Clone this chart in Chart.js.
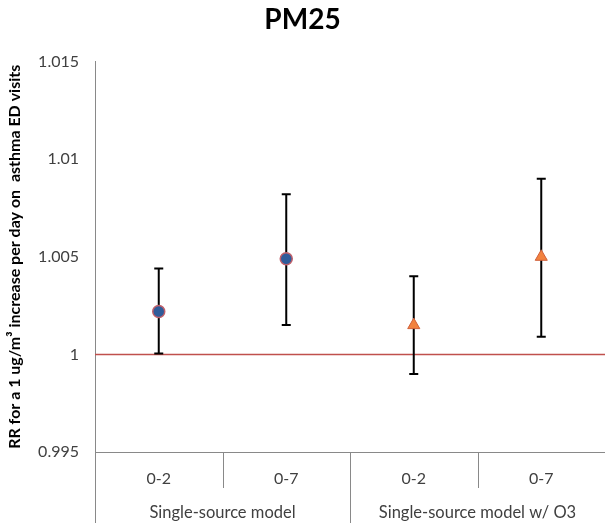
<!DOCTYPE html>
<html>
<head>
<meta charset="utf-8">
<script src="https://cdn.jsdelivr.net/npm/chart.js@4"></script>
<style>
  html, body { margin: 0; padding: 0; background: #fff; }
  #wrap { width: 605px; height: 531px; }
</style>
</head>
<body>
<div id="wrap"><canvas id="pmChart"></canvas></div>
<script>
// chart values
const lagLabels = ['0-2', '0-7', '0-2', '0-7'];
const groupLabels = ['Single-source model', 'Single-source model w/ O3'];
const groupSpans = [2, 2];

const singleRR = [1.0022, 1.0049, null, null];
const singleLow = [1.00005, 1.0015, null, null];
const singleHigh = [1.0044, 1.0082, null, null];

const o3RR = [null, null, 1.0015, 1.0050];
const o3Low = [null, null, 0.9990, 1.0009];
const o3High = [null, null, 1.0040, 1.0090];

const refValue = 1;
const yTicks = [0.995, 1, 1.005, 1.01, 1.015];

const axisGray = '#898989';
const textGray = '#404040';

// error bars + reference line, drawn under the markers
const errorBars = {
  id: 'errorBars',
  beforeDatasetsDraw(chart) {
    const { ctx, chartArea, scales: { x, y } } = chart;
    ctx.save();
    // reference line at RR = 1
    const yr = y.getPixelForValue(refValue);
    ctx.strokeStyle = '#C0504D';
    ctx.lineWidth = 1.5;
    ctx.beginPath();
    ctx.moveTo(chartArea.left, yr);
    ctx.lineTo(chartArea.right, yr);
    ctx.stroke();

    ctx.strokeStyle = '#000';
    ctx.lineWidth = 2;
    chart.data.datasets.forEach(ds => {
      ds.data.forEach((v, i) => {
        if (v == null) return;
        const px = x.getPixelForValue(i);
        const top = y.getPixelForValue(ds.high[i]);
        const bot = y.getPixelForValue(ds.low[i]);
        ctx.beginPath();
        ctx.moveTo(px, top); ctx.lineTo(px, bot);
        ctx.moveTo(px - 4.5, top); ctx.lineTo(px + 4.5, top);
        ctx.moveTo(px - 4.5, bot); ctx.lineTo(px + 4.5, bot);
        ctx.stroke();
      });
    });
    ctx.restore();
  }
};

// grouped category axis (dividers and group names)
const groupAxis = {
  id: 'groupAxis',
  afterDraw(chart) {
    const { ctx, chartArea, scales: { x } } = chart;
    const n = lagLabels.length;
    const edge = i => {
      if (i === 0) return chartArea.left;
      if (i === n) return chartArea.right;
      return (x.getPixelForValue(i - 1) + x.getPixelForValue(i)) / 2;
    };
    const groupEdges = [0];
    groupSpans.forEach(s => groupEdges.push(groupEdges[groupEdges.length - 1] + s));

    ctx.save();
    ctx.strokeStyle = axisGray;
    ctx.lineWidth = 1;
    for (let i = 0; i < n; i++) {
      const px = Math.round(edge(i)) + 0.5;
      const len = groupEdges.includes(i) ? 71 : 36;
      ctx.beginPath();
      ctx.moveTo(px, x.top);
      ctx.lineTo(px, x.top + len);
      ctx.stroke();
    }
    ctx.fillStyle = textGray;
    ctx.font = '16.5px Lato';
    ctx.textAlign = 'center';
    ctx.textBaseline = 'middle';
    groupLabels.forEach((g, k) => {
      const cx = (edge(groupEdges[k]) + edge(groupEdges[k + 1])) / 2;
      ctx.fillText(g, cx, x.top + 61);
    });
    ctx.restore();
  }
};

new Chart(document.getElementById('pmChart'), {
  type: 'line',
  data: {
    labels: lagLabels,
    datasets: [
      {
        label: 'Single-source model',
        data: singleRR,
        low: singleLow,
        high: singleHigh,
        showLine: false,
        pointStyle: 'circle',
        pointRadius: 6,
        pointBackgroundColor: '#2F5C9A',
        pointBorderColor: '#C0606A',
        pointBorderWidth: 1.5
      },
      {
        label: 'Single-source model w/ O3',
        data: o3RR,
        low: o3Low,
        high: o3High,
        showLine: false,
        pointStyle: 'triangle',
        pointRadius: 7,
        pointBackgroundColor: '#F2823F',
        pointBorderColor: '#D0603A',
        pointBorderWidth: 1
      }
    ]
  },
  options: {
    responsive: true,
    maintainAspectRatio: false,
    animation: false,
    layout: { padding: 0, autoPadding: false },
    plugins: {
      legend: { display: false },
      tooltip: { enabled: false },
      title: {
        display: true,
        text: 'PM25',
        color: '#000',
        font: { family: 'Lato', size: 28, weight: 'bold' },
        padding: { top: 3, bottom: 25 }
      }
    },
    scales: {
      x: {
        type: 'category',
        offset: true,
        grid: { display: false, drawTicks: false },
        border: { color: axisGray, width: 1 },
        ticks: {
          color: textGray,
          font: { family: 'Lato', size: 16 },
          padding: 17,
          maxRotation: 0
        },
        afterFit(scale) {
          scale.height = 79;
          scale.paddingLeft = 0;
          scale.paddingRight = 0;
        }
      },
      y: {
        min: 0.995,
        max: 1.015,
        grid: { display: false, drawTicks: false },
        border: { color: axisGray, width: 1 },
        afterBuildTicks(scale) { scale.ticks = yTicks.map(v => ({ value: v })); },
        ticks: {
          color: textGray,
          font: { family: 'Lato', size: 16 },
          padding: 16,
          callback: v => String(+v.toFixed(3))
        },
        title: {
          display: true,
          text: 'RR for a 1 ug/m\u00B3 increase per day on  asthma ED visits',
          color: '#000',
          font: { family: 'Lato', size: 16, weight: 'bold' },
          padding: { top: 5, bottom: 0 }
        },
        afterFit(scale) { scale.width = 95; }
      }
    }
  },
  plugins: [errorBars, groupAxis]
});
</script>
</body>
</html>
